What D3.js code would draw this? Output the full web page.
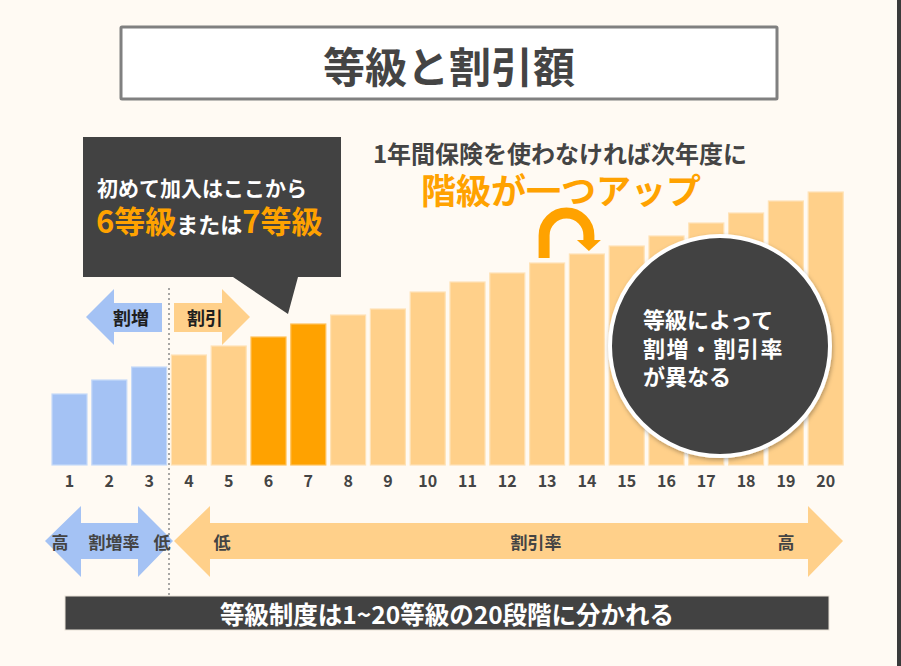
<!DOCTYPE html>
<html>
<head>
<meta charset="utf-8">
<script src="https://cdn.jsdelivr.net/npm/d3@7/dist/d3.min.js"></script>
<style>
  html, body { margin: 0; padding: 0; background: #fffaf3; }
  #chart { width: 901px; height: 666px; }
  text { font-family: "Noto Sans CJK JP", "Noto Sans", sans-serif; font-weight: 700; }
</style>
</head>
<body>
<div id="chart"></div>
<script>
// grades 1..20 and bar heights
const grades = [1, 2, 3, 4, 5, 6, 7, 8, 9, 10, 11, 12, 13, 14, 15, 16, 17, 18, 19, 20];
const heights = [71, 85, 98, 110, 119, 128, 141, 150, 156, 173, 183, 192, 202, 211, 219, 229, 242, 252, 264, 273];
const surchargeGrades = [1, 2, 3];
const startGrades = [6, 7];

const title = "等級と割引額";
const upLine1 = "1年間保険を使わなければ次年度に";
const upLine2 = "階級が一つアップ";
const circleLines = ["等級によって", "割増・割引率", "が異なる"];
const footer = "等級制度は1~20等級の20段階に分かれる";

const colors = {
    bg: "#fffaf3",
    blue: "#a4c2f4",
    light: "#ffd08a",
    orange: "#ffa200",
    dark: "#424242",
    text: "#444444"
};

const width = 901, height = 666;
const baseY = 465;

const svg = d3.select("#chart").append("svg")
    .attr("width", width)
    .attr("height", height);

svg.append("rect").attr("width", width).attr("height", height).attr("fill", colors.bg);
svg.append("rect").attr("x", 897).attr("y", 0).attr("width", 4).attr("height", height).attr("fill", "#3a3a3a");

const defs = svg.append("defs");
const shadow = defs.append("filter").attr("id", "shadow")
    .attr("x", "-20%").attr("y", "-20%").attr("width", "140%").attr("height", "140%");
shadow.append("feDropShadow").attr("dx", 1).attr("dy", 2).attr("stdDeviation", 2)
    .attr("flood-color", "#000").attr("flood-opacity", 0.3);

// title box
svg.append("rect")
    .attr("x", 121).attr("y", 27).attr("width", 656).attr("height", 72)
    .attr("fill", "#ffffff").attr("stroke", "#808080").attr("stroke-width", 3).attr("rx", 1);
svg.append("text")
    .attr("x", 449).attr("y", 64).attr("text-anchor", "middle").attr("dominant-baseline", "central")
    .attr("font-size", 42).attr("fill", colors.text).text(title);

// scales
const x = d3.scaleBand()
    .domain(grades)
    .range([50, 845.2])
    .paddingInner(0.12)
    .paddingOuter(0.05);

const y = d3.scaleLinear()
    .domain([0, 300])
    .range([baseY, baseY - 300]);

function barColor(g) {
    if (surchargeGrades.includes(g)) return colors.blue;
    if (startGrades.includes(g)) return colors.orange;
    return colors.light;
}
function barEdge(g) {
    if (surchargeGrades.includes(g)) return "#c6daf8";
    if (startGrades.includes(g)) return "#ffc15a";
    return "#ffe2b6";
}

const bars = grades.map((g, i) => ({ grade: g, value: heights[i] }));

svg.append("g").selectAll("rect")
    .data(bars)
    .join("rect")
    .attr("x", d => x(d.grade))
    .attr("y", d => y(d.value))
    .attr("width", x.bandwidth())
    .attr("height", d => y(0) - y(d.value))
    .attr("fill", d => barColor(d.grade))
    .attr("stroke", d => barEdge(d.grade))
    .attr("stroke-width", 1.2);

// tick labels
const xAxis = svg.append("g")
    .attr("transform", "translate(0," + (baseY + 8) + ")")
    .call(d3.axisBottom(x).tickSize(0).tickPadding(0));
xAxis.select(".domain").remove();
xAxis.selectAll("text")
    .attr("dy", "0.9em")
    .attr("font-family", "'Liberation Sans', Arial, sans-serif")
    .attr("font-weight", 700)
    .attr("font-size", 16)
    .attr("fill", colors.text);

// dotted divider between grade 3 and 4
const divX = (x(3) + x.bandwidth() + x(4)) / 2;
svg.append("line")
    .attr("x1", divX).attr("x2", divX).attr("y1", 288).attr("y2", 597)
    .attr("stroke", "#8a8a8a").attr("stroke-width", 1.5).attr("stroke-dasharray", "2,3");

// small arrows 割増 / 割引
const arrowTop = 289, arrowBot = 345, shaftTop = 303, shaftBot = 332, midY = 317;
svg.append("polygon")
    .attr("points", [[86, midY], [114, arrowTop], [114, shaftTop], [162, shaftTop], [162, shaftBot], [114, shaftBot], [114, arrowBot]].join(" "))
    .attr("fill", colors.blue);
svg.append("text").attr("x", 131).attr("y", midY).attr("text-anchor", "middle").attr("dominant-baseline", "central")
    .attr("font-size", 18).attr("fill", "#1e1e1e").text("割増");

svg.append("polygon")
    .attr("points", [[174, shaftTop], [222, shaftTop], [222, arrowTop], [250, midY], [222, arrowBot], [222, shaftBot], [174, shaftBot]].join(" "))
    .attr("fill", colors.light);
svg.append("text").attr("x", 205).attr("y", midY).attr("text-anchor", "middle").attr("dominant-baseline", "central")
    .attr("font-size", 18).attr("fill", "#1e1e1e").text("割引");

// callout box
svg.append("polygon")
    .attr("points", [[83, 137], [341, 137], [341, 277], [298, 277], [288, 314], [233, 277], [83, 277]].join(" "))
    .attr("fill", colors.dark);
svg.append("text").attr("x", 97).attr("y", 187).attr("dominant-baseline", "central")
    .attr("font-size", 21).attr("fill", "#ffffff").text("初めて加入はここから");
const t2 = svg.append("text").attr("x", 96).attr("y", 233).attr("fill", "#ffffff");
t2.append("tspan").attr("font-size", 31).attr("fill", colors.orange).text("6等級");
t2.append("tspan").attr("font-size", 22).text("または");
t2.append("tspan").attr("font-size", 31).attr("fill", colors.orange).text("7等級");

// "one step up" text
svg.append("text").attr("x", 560).attr("y", 152).attr("text-anchor", "middle").attr("dominant-baseline", "central")
    .attr("font-size", 24).attr("fill", colors.text).text(upLine1);
svg.append("text").attr("x", 561).attr("y", 188).attr("text-anchor", "middle").attr("dominant-baseline", "central")
    .attr("font-size", 35).attr("fill", colors.orange).text(upLine2);

// U-turn arrow from grade 13 to 14
const cx13 = x(13) + x.bandwidth() / 2 - 3;
const cx14 = x(14) + x.bandwidth() / 2 + 2;
const arcR = (cx14 - cx13) / 2;
const arcCy = 235.5;
const uPath = d3.path();
uPath.moveTo(cx13, y(heights[12]) - 5);
uPath.lineTo(cx13, arcCy);
uPath.arc(cx13 + arcR, arcCy, arcR, Math.PI, 0, false);
uPath.lineTo(cx14, 241);
svg.append("path").attr("d", uPath.toString())
    .attr("fill", "none").attr("stroke", colors.orange).attr("stroke-width", 11);
svg.append("polygon")
    .attr("points", [[cx14 - 12, 240], [cx14 + 12, 240], [cx14, 251]].join(" "))
    .attr("fill", colors.orange);

// circle note
svg.append("circle").attr("cx", 720).attr("cy", 346).attr("r", 110)
    .attr("fill", colors.dark).attr("stroke", "#ffffff").attr("stroke-width", 4)
    .attr("filter", "url(#shadow)");
svg.append("g").selectAll("text")
    .data(circleLines)
    .join("text")
    .attr("x", 643)
    .attr("y", (d, i) => 318 + i * 28.5)
    .attr("dominant-baseline", "central")
    .attr("font-size", 22)
    .attr("letter-spacing", (d, i) => i === 1 ? 1.5 : 0)
    .attr("fill", "#ffffff")
    .text(d => d);

// bottom range arrows
const bTop = 506, bBot = 577, bsTop = 523, bsBot = 559, bMid = 541;
svg.append("polygon")
    .attr("points", [[45, bMid], [81, bTop], [81, bsTop], [138, bsTop], [138, bTop], [173, bMid], [138, bBot], [138, bsBot], [81, bsBot], [81, bBot]].join(" "))
    .attr("fill", colors.blue);
svg.append("polygon")
    .attr("points", [[174, bMid], [210, bTop], [210, bsTop], [808, bsTop], [808, bTop], [843, bMid], [808, bBot], [808, bsBot], [210, bsBot], [210, bBot]].join(" "))
    .attr("fill", colors.light);

const rangeLabels = [
    { x: 60, t: "高" }, { x: 114, t: "割増率" }, { x: 162, t: "低" },
    { x: 222, t: "低" }, { x: 536, t: "割引率" }, { x: 786, t: "高" }
];
svg.append("g").selectAll("text")
    .data(rangeLabels)
    .join("text")
    .attr("x", d => d.x)
    .attr("y", bMid)
    .attr("text-anchor", "middle")
    .attr("dominant-baseline", "central")
    .attr("font-size", 17)
    .attr("fill", colors.text)
    .text(d => d.t);

// footer band
svg.append("rect").attr("x", 65).attr("y", 596).attr("width", 764).attr("height", 34)
    .attr("fill", colors.dark).attr("stroke", "#e9e2d8").attr("stroke-width", 1);
svg.append("text").attr("x", 447).attr("y", 613).attr("text-anchor", "middle").attr("dominant-baseline", "central")
    .attr("font-size", 24.5).attr("fill", "#ffffff").text(footer);
</script>
</body>
</html>
